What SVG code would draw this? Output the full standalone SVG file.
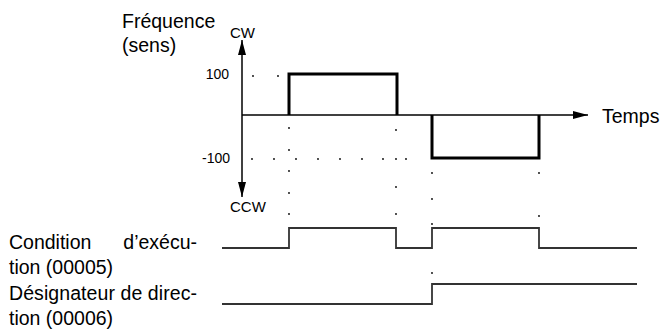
<svg xmlns="http://www.w3.org/2000/svg" width="662" height="329" viewBox="0 0 662 329">
<style>
.lbl{font-family:"Liberation Sans",Arial,sans-serif;font-size:19.5px;fill:#000}
.sm{font-family:"Liberation Sans",Arial,sans-serif;font-size:14px;fill:#000}
.cw{font-family:"Liberation Sans",Arial,sans-serif;font-size:15px;fill:#000}
.ax{stroke:#000;stroke-width:1.5;fill:none}
.pulse{stroke:#000;stroke-width:3;fill:none;stroke-linejoin:miter}
.sig{stroke:#333;stroke-width:1.8;fill:none}
.dot{fill:#000}
</style>
<defs>
<marker id="arr" viewBox="0 0 15 8" refX="15" refY="4" markerWidth="15" markerHeight="8" markerUnits="userSpaceOnUse" orient="auto">
<path d="M0,0 L15,4 L0,8 z" fill="#000"/>
</marker>
<circle id="d" r="0.9" class="dot"/>
</defs>
<rect width="662" height="329" fill="#fff"/>

<g id="labels">
<text class="lbl" x="122" y="28">Fréquence</text>
<text class="lbl" x="122" y="52">(sens)</text>
<text class="cw" x="230" y="38">CW</text>
<text class="cw" x="230" y="212">CCW</text>
<text class="sm" x="229" y="79" text-anchor="end">100</text>
<text class="sm" x="230" y="163" text-anchor="end">-100</text>
<text class="lbl" x="602" y="123">Temps</text>
<text class="lbl" x="9" y="249">Condition</text>
<text class="lbl" x="197" y="249" text-anchor="end">d’exécu-</text>
<text class="lbl" x="9" y="274">tion (00005)</text>
<text class="lbl" x="9" y="300" textLength="188" lengthAdjust="spacing">Désignateur de direc-</text>
<text class="lbl" x="9" y="325">tion (00006)</text>
</g>

<g id="connectors">
<line class="ax" x1="242" y1="115" x2="242" y2="40" marker-end="url(#arr)"/>
<line class="ax" x1="242" y1="115" x2="242" y2="197" marker-end="url(#arr)"/>
<line class="ax" x1="242" y1="115" x2="588" y2="115" marker-end="url(#arr)"/>
</g>

<g id="pulses">
<polyline class="pulse" points="289,115 289,74 397,74 397,115"/>
<polyline class="pulse" points="432,115 432,158 539,158 539,115"/>
</g>

<g id="signal-00005">
<polyline class="sig" points="222,248 289,248 289,228 396,228 396,248 432,248 432,228 539,228 539,248 637,248"/>
</g>
<g id="signal-00006">
<polyline class="sig" points="222,304 432,304 432,284 637,284"/>
</g>

<g id="dots">
<use href="#d" x="253" y="76"/><use href="#d" x="278" y="76"/>
<use href="#d" x="289" y="128"/><use href="#d" x="289" y="150"/><use href="#d" x="289" y="171"/><use href="#d" x="289" y="193"/><use href="#d" x="289" y="214"/>
<use href="#d" x="252" y="159"/><use href="#d" x="274" y="159"/><use href="#d" x="296" y="159"/><use href="#d" x="318" y="159"/><use href="#d" x="340" y="159"/><use href="#d" x="362" y="159"/><use href="#d" x="383" y="159"/><use href="#d" x="406" y="159"/>
<use href="#d" x="396" y="130"/><use href="#d" x="396" y="159"/><use href="#d" x="396" y="187"/><use href="#d" x="396" y="214"/>
<use href="#d" x="432" y="173"/><use href="#d" x="432" y="199"/><use href="#d" x="432" y="224"/><use href="#d" x="432" y="273"/>
<use href="#d" x="539" y="173"/><use href="#d" x="539" y="216"/>
</g>
</svg>
